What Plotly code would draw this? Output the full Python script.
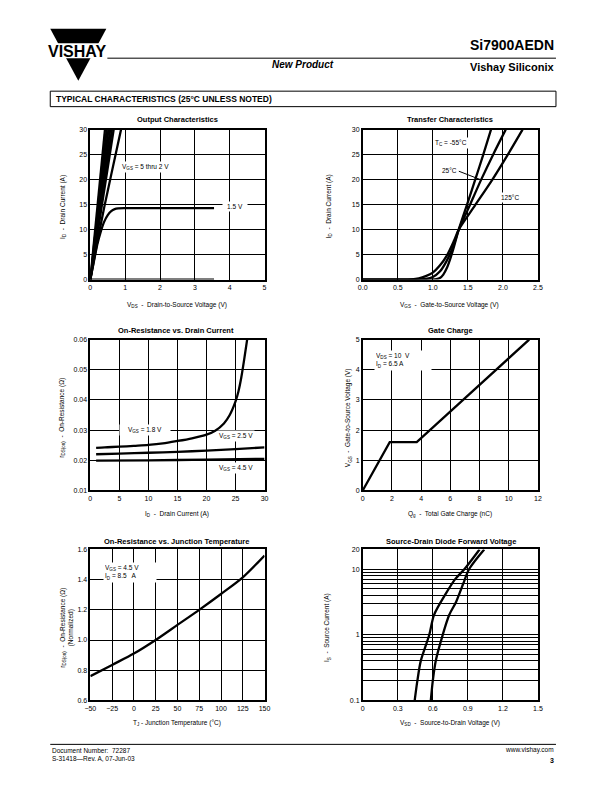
import plotly.graph_objects as go

W, H = 612, 792
FONT = "Liberation Sans, Arial, Helvetica, sans-serif"

# ---------------- data ----------------
# Output characteristics (VGS = 5 thru 2.5 V bundle, nearly straight lines)
out_bundle_vgs = ["5 V", "4.5 V", "4 V", "3.5 V", "3 V", "2.5 V"]
out_bundle_vds_end = [0.42, 0.47, 0.52, 0.57, 0.62, 0.67]
out_bundle_id_end = [30, 30, 30, 30, 30, 30]
out_2v_vds = [0, 0.2, 0.4, 0.6, 0.88]
out_2v_id = [0, 7.5, 14.5, 21, 30]
out_15v_vds = [0, 0.1, 0.2, 0.3, 0.4, 0.5, 0.6, 0.7, 0.8, 1.0, 1.5, 3.55]
out_15v_id = [0, 3.5, 7.0, 9.6, 11.6, 12.9, 13.7, 14.1, 14.25, 14.3, 14.3, 14.3]
out_1v_vds = [0, 3.55]
out_1v_id = [0, 0]

# Transfer characteristics
tr_m55_vgs = [0, 0.5, 0.9, 1.0, 1.05, 1.1, 1.15, 1.2, 1.25, 1.3, 1.37, 1.5, 1.605, 1.72, 1.83]
tr_m55_id = [0, 0, 0, 0.02, 0.08, 0.3, 1.0, 2.3, 4.2, 6.5, 10, 15.5, 20, 25, 30]
tr_25_vgs = [0, 0.6, 0.8, 0.9, 1.0, 1.1, 1.2, 1.3, 1.37, 1.5, 1.69, 1.86, 2.04]
tr_25_id = [0, 0, 0.02, 0.12, 0.5, 1.6, 3.8, 7.0, 10, 14, 20, 25, 30]
tr_125_vgs = [0, 0.5, 0.7, 0.8, 0.9, 1.0, 1.1, 1.2, 1.3, 1.37, 1.6, 1.85, 2.07, 2.28]
tr_125_id = [0, 0, 0.05, 0.25, 0.7, 1.4, 2.8, 4.8, 7.7, 10, 14.8, 20, 25, 30]

# On-resistance vs drain current
ron_18_id = [1, 2.5, 5, 7.5, 10, 12.5, 15, 17.5, 20, 21.5, 23, 24, 25, 25.5, 26, 26.5, 27]
ron_18_r = [0.0241, 0.0243, 0.0245, 0.0248, 0.0251, 0.0256, 0.0264, 0.0273, 0.0285,
            0.0298, 0.0322, 0.0350, 0.0395, 0.0428, 0.0475, 0.0535, 0.0600]
ron_25_id = [1, 5, 10, 15, 20, 25, 30]
ron_25_r = [0.0220, 0.0222, 0.0225, 0.0228, 0.0232, 0.0237, 0.0243]
ron_45_id = [1, 10, 20, 30]
ron_45_r = [0.0199, 0.0200, 0.0202, 0.0205]

# Gate charge
gc_qg = [0, 1.85, 3.7, 11.4]
gc_vgs = [0, 1.6, 1.6, 5.0]

# On-resistance vs junction temperature
rt_tj = [-50, -25, 0, 25, 50, 75, 100, 125, 150]
rt_r = [0.76, 0.835, 0.91, 1.0, 1.1, 1.2, 1.305, 1.415, 1.56]

# Source-drain diode forward voltage
sd_150_vsd = [0.445, 0.468, 0.497, 0.57, 0.61, 0.71, 0.79, 0.87, 1.0]
sd_150_is = [0.1, 0.2, 0.4, 1.0, 2.0, 4.2, 7.0, 10, 20]
sd_25_vsd = [0.583, 0.60, 0.625, 0.685, 0.74, 0.80, 0.86, 0.91, 1.04]
sd_25_is = [0.1, 0.2, 0.4, 1.0, 2.0, 3.2, 6.0, 10, 20]

# tick labels
sd_x_ticks = [0, 0.3, 0.6, 0.9, 1.2, 1.5]
sd_x_text = ["0", "0.3", "0.6", "0.9", "1.2", "1.5"]
sd_y_ticks = [0.1, 1, 10, 20]
sd_y_text = ["0.1", "1", "10", "20"]
sd_y_minor = [0.2, 0.3, 0.4, 0.5, 0.6, 0.7, 0.8, 0.9, 2, 3, 4, 5, 6, 7, 8, 9]

# ---------------- layout helpers ----------------
# small empirical correction so that page positions land where intended
AX, BX = 0.979, 5.8
AY, BY = 0.9916, 3.3

def px(x):
    return ((x - BX) / AX) / W

def py(y):
    return 1 - ((y - BY) / AY) / H

# plot boxes in page pixels: (left, right, top, bottom)
boxes = [(90, 264, 129, 279), (362, 537, 129, 279),
         (90, 264, 339, 490), (362, 537, 339, 490),
         (90, 264, 549, 700), (362, 537, 549, 700)]

fig = go.Figure()
LW = 2.3

def line(x, y, i, shape="spline", smoothing=0.8):
    fig.add_trace(go.Scatter(
        x=x, y=y, mode="lines", xaxis=f"x{i}", yaxis=f"y{i}",
        line=dict(color="black", width=LW, shape=shape,
                  smoothing=smoothing if shape == "spline" else None),
        showlegend=False, hoverinfo="skip"))

# Panel 1
for name, ve, ie in zip(out_bundle_vgs, out_bundle_vds_end, out_bundle_id_end):
    line([0, ve], [0, ie], 1, shape="linear")
line(out_2v_vds, out_2v_id, 1)
line(out_15v_vds, out_15v_id, 1)
line(out_1v_vds, out_1v_id, 1, shape="linear")
# Panel 2
line(tr_m55_vgs, tr_m55_id, 2)
line(tr_25_vgs, tr_25_id, 2)
line(tr_125_vgs, tr_125_id, 2)
# Panel 3
line(ron_18_id, ron_18_r, 3)
line(ron_25_id, ron_25_r, 3)
line(ron_45_id, ron_45_r, 3)
# Panel 4
line(gc_qg, gc_vgs, 4, shape="linear")
# Panel 5
line(rt_tj, rt_r, 5)
# Panel 6
line(sd_150_vsd, sd_150_is, 6)
line(sd_25_vsd, sd_25_is, 6)

tickfont = dict(family=FONT, size=7, color="black")
common = dict(showline=True, linecolor="black", linewidth=1.5, mirror=True,
              showgrid=True, gridcolor="black", gridwidth=1, zeroline=False,
              ticks="", tickfont=tickfont, fixedrange=True)

axis_specs = [
    (dict(range=[0, 5], dtick=1, tick0=0), dict(range=[0, 30], dtick=5, tick0=0)),
    (dict(range=[0, 2.5], dtick=0.5, tick0=0, tickformat=".1f"),
     dict(range=[0, 30], dtick=5, tick0=0)),
    (dict(range=[0, 30], dtick=5, tick0=0),
     dict(range=[0.01, 0.06], dtick=0.01, tick0=0, tickformat=".2f")),
    (dict(range=[0, 12], dtick=2, tick0=0), dict(range=[0, 5], dtick=1, tick0=0)),
    (dict(range=[-50, 150], dtick=25, tick0=-50),
     dict(range=[0.6, 1.6], dtick=0.2, tick0=0.6, tickformat=".1f")),
    (dict(range=[0, 1.5], tickmode="array", tickvals=sd_x_ticks, ticktext=sd_x_text),
     dict(type="log", range=[-1, 1.30103], tickmode="array", tickvals=sd_y_ticks,
          ticktext=sd_y_text,
          minor=dict(tickmode="array", tickvals=sd_y_minor, showgrid=True,
                     gridcolor="black", gridwidth=1, ticks=""))),
]

layout_axes = {}
for i, ((l, r, t, b), (xs, ys)) in enumerate(zip(boxes, axis_specs), start=1):
    xa = dict(common); xa.update(xs)
    xa.update(domain=[px(l), px(r)], anchor=f"y{i}")
    ya = dict(common); ya.update(ys)
    ya.update(domain=[py(b), py(t)], anchor=f"x{i}")
    key = "" if i == 1 else str(i)
    layout_axes[f"xaxis{key}"] = xa
    layout_axes[f"yaxis{key}"] = ya

ann = []

def text(x, y, s, size=7, bold=False, italic=False, xanchor="center", yanchor="middle",
         angle=0, align="center", color="black"):
    if bold:
        s = f"<b>{s}</b>"
    if italic:
        s = f"<i>{s}</i>"
    ann.append(dict(x=px(x), y=py(y), xref="paper", yref="paper", text=s,
                    showarrow=False, xanchor=xanchor, yanchor=yanchor,
                    textangle=angle, align=align,
                    font=dict(family=FONT, size=size, color=color)))

def dlabel(i, x, y, s, size=6.5, xanchor="center", width=None, align="center"):
    d = dict(x=x, y=y, xref=f"x{i}", yref=f"y{i}", text=s, showarrow=False,
             xanchor=xanchor, yanchor="middle", bgcolor="white", align=align,
             borderpad=1, font=dict(family=FONT, size=size, color="black"))
    if width:
        d["width"] = width
    ann.append(d)

# Panel titles
titles = ["Output Characteristics", "Transfer Characteristics",
          "On-Resistance vs. Drain Current", "Gate Charge",
          "On-Resistance vs. Junction Temperature", "Source-Drain Diode Forward Voltage"]
title_pos = [(177, 119), (449, 119), (176, 330), (450, 330), (176, 541), (450, 541)]
for s, (x, y) in zip(titles, title_pos):
    text(x, y, s, size=7.5, bold=True)

# X axis titles
xtitles = ["V<sub>DS</sub>  -  Drain-to-Source Voltage (V)",
           "V<sub>GS</sub>  -  Gate-to-Source Voltage (V)",
           "I<sub>D</sub>  -  Drain Current (A)",
           "Q<sub>g</sub>  -  Total Gate Charge (nC)",
           "T<sub>J</sub> - Junction Temperature (°C)",
           "V<sub>SD</sub>  -  Source-to-Drain Voltage (V)"]
xtitle_pos = [(177, 304), (449, 304), (177, 514), (449, 514), (177, 723), (449, 723)]
for s, (x, y) in zip(xtitles, xtitle_pos):
    text(x, y, s, size=6.5)

# Y axis titles
ytitles = ["I<sub>D</sub>  -  Drain Current (A)",
           "I<sub>D</sub>  -  Drain Current (A)",
           "r<sub>DS(on)</sub>  -  On-Resistance (Ω)",
           "V<sub>GS</sub>  -  Gate-to-Source Voltage (V)",
           "r<sub>DS(on)</sub>  -  On-Resistance (Ω)<br>(Normalized)",
           "I<sub>S</sub>  -  Source Current (A)"]
ytitle_pos = [(62, 206), (328, 206), (61, 417), (347, 417), (67, 627), (327, 627)]
for s, (x, y) in zip(ytitles, ytitle_pos):
    text(x, y, s, size=6.5, angle=-90)

# In-plot labels
dlabel(1, 0.86, 22.6, "V<sub>GS</sub> = 5 thru 2 V", xanchor="left")
dlabel(1, 4.15, 14.7, "1.5 V", width=22)
dlabel(2, 1.26, 27.3, "T<sub>C</sub> = -55°C")
dlabel(2, 1.24, 21.8, "25°C")
dlabel(2, 2.1, 16.5, "125°C")
ann.append(dict(x=1.68, y=20.0, ax=1.35, ay=21.8, xref="x2", yref="y2",
                axref="x2", ayref="y2", showarrow=True, arrowhead=0,
                arrowwidth=1, arrowcolor="black", text=""))
dlabel(3, 9.5, 0.030, "V<sub>GS</sub> = 1.8 V", width=48)
dlabel(3, 25.0, 0.0279, "V<sub>GS</sub> = 2.5 V")
dlabel(3, 25.0, 0.0176, "V<sub>GS</sub> = 4.5 V")
dlabel(4, 0.8, 4.32, "V<sub>DS</sub> = 10  V<br>I<sub>D</sub> = 6.5 A", xanchor="left",
       width=54, align="left")
dlabel(5, -35, 1.45, "V<sub>GS</sub> = 4.5 V<br>I<sub>D</sub> = 8.5   A", xanchor="left",
       width=50, align="left")
dlabel(6, 0.54, 1.66, "T<sub>J</sub> = 150°C")
dlabel(6, 1.05, 1.48, "T<sub>J</sub> = 25°C")

# Header
text(555, 44, "Si7900AEDN", size=14, bold=True, xanchor="right")
text(302, 64, "New Product", size=10, bold=True, italic=True)
text(555, 66, "Vishay Siliconix", size=11, bold=True, xanchor="right")
text(54, 98.5, "TYPICAL CHARACTERISTICS (25°C UNLESS NOTED)", size=8.5, bold=True,
     xanchor="left")
text(77, 50.5, "VISHAY", size=16, bold=True)

# Footer
text(50, 750, "Document Number:  72287", size=6.5, xanchor="left")
text(50, 758, "S-31418—Rev. A, 07-Jun-03", size=6.5, xanchor="left")
text(555, 750, "www.vishay.com", size=6.5, xanchor="right")
text(555, 760, "3", size=7, bold=True, xanchor="right")

shapes = []
def pline(x0, y0, x1, y1, w=1):
    shapes.append(dict(type="line", xref="paper", yref="paper", x0=px(x0), y0=py(y0),
                       x1=px(x1), y1=py(y1), line=dict(color="black", width=w)))

# logo: triangle with white band for text
shapes.append(dict(type="path", xref="paper", yref="paper",
                   path=f"M {px(50)} {py(28)} L {px(106)} {py(28)} L {px(78)} {py(80)} Z",
                   fillcolor="black", line=dict(color="black", width=0)))
shapes.append(dict(type="rect", xref="paper", yref="paper",
                   x0=px(42), x1=px(111), y0=py(57.5), y1=py(42.5),
                   fillcolor="white", line=dict(width=0)))
pline(107, 57.5, 555, 57.5, 1)
shapes.append(dict(type="rect", xref="paper", yref="paper",
                   x0=px(50), x1=px(555), y0=py(106), y1=py(90.5),
                   fillcolor="white", line=dict(color="black", width=1)))
pline(50, 744, 555, 744, 1)

fig.update_layout(
    width=W, height=H, margin=dict(l=0, r=0, t=0, b=0),
    paper_bgcolor="white", plot_bgcolor="white",
    showlegend=False, annotations=ann, shapes=shapes,
    font=dict(family=FONT, color="black"),
    **layout_axes,
)

fig.write_html("out.html", config={"displayModeBar": False},
               post_script="document.body.style.margin='0';document.body.style.overflow='hidden';")
